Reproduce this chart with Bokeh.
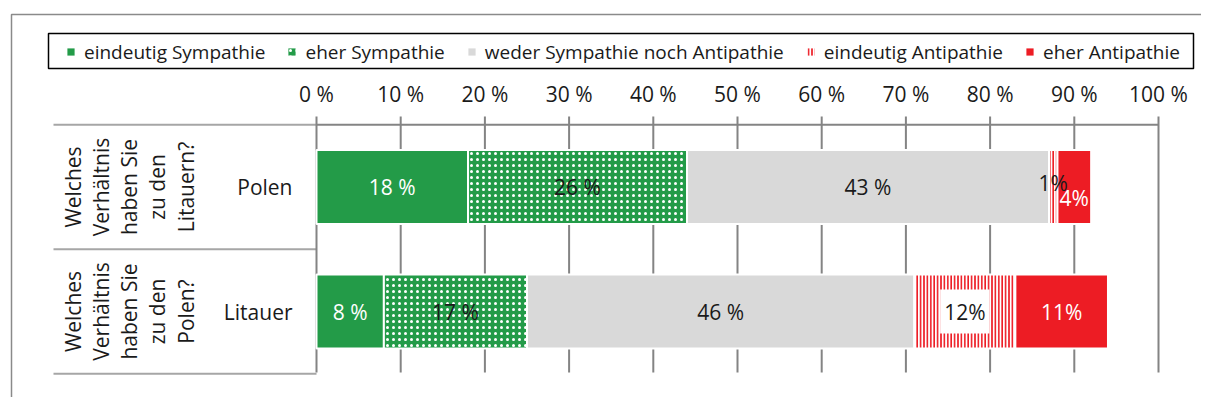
import numpy as np
from bokeh.plotting import figure
from bokeh.models import Range1d, Legend, LegendItem
from bokeh.core.properties import value
from bokeh.embed import file_html
from bokeh.resources import INLINE

# ---------------- data ----------------
groups = ["Polen", "Litauer"]
questions = [
    ["Welches", "Verhältnis", "haben Sie", "zu den", "Litauern?"],
    ["Welches", "Verhältnis", "haben Sie", "zu den", "Polen?"],
]
series = ["eindeutig Sympathie", "eher Sympathie",
          "weder Sympathie noch Antipathie", "eindeutig Antipathie",
          "eher Antipathie"]
eindeutig_sympathie = [18, 8]
eher_sympathie = [26, 17]
weder = [43, 46]
eindeutig_antipathie = [1, 12]
eher_antipathie = [4, 11]
bar_labels = [
    ["18 %", "8 %"],
    ["26 %", "17 %"],
    ["43 %", "46 %"],
    ["1%", "12%"],
    ["4%", "11%"],
]
x_ticks = [0, 10, 20, 30, 40, 50, 60, 70, 80, 90, 100]
tick_labels = ["0 %", "10 %", "20 %", "30 %", "40 %", "50 %",
               "60 %", "70 %", "80 %", "90 %", "100 %"]

values = [eindeutig_sympathie, eher_sympathie, weder,
          eindeutig_antipathie, eher_antipathie]

# ---------------- styles ----------------
GREEN = "#239B48"
RED = "#ED1C24"
GREY = "#D9D9D9"
GRID = "#848484"
TABLE = "#A6A6A6"
INK = "#1a1a1a"
FONT_NAME = "Open Sans"
FONT = value(FONT_NAME)

fills = [GREEN, GREEN, GREY, "#FFFFFF", RED]
hatches = [None, "dot", None, "vertical_line", None]
hatch_colors = [None, "white", None, RED, None]
hatch_scales = [1, 6, 1, 3.4, 1]
hatch_weights = [1, 1.6, 1, 1.8, 1]
label_colors = ["white", INK, INK, INK, "white"]

W, H = 1201, 397
PX_PER_PCT = 8.42
X0 = 316.0           # px of 0 %
PX_PER_ROW = 124.5
Y0 = 186.5           # px of first row centre

def dx(px):  # pixel -> data x
    return (px - X0) / PX_PER_PCT

def dy(py):  # pixel -> data y
    return (py - Y0) / PX_PER_ROW

p = figure(width=W, height=H,
           x_range=Range1d(-X0 / PX_PER_PCT, (W - X0) / PX_PER_PCT),
           y_range=Range1d((H - Y0) / PX_PER_ROW, -Y0 / PX_PER_ROW),
           output_backend="svg", toolbar_location=None,
           x_axis_location=None, y_axis_location=None,
           min_border=0, outline_line_color=None)
p.grid.visible = False

# outer frame (top + left)
p.line(x=[dx(11), dx(11), dx(1300)], y=[dy(420), dy(14), dy(14)],
       line_color="#8a8a8a", line_width=1.5)

# table lines on the left
rows = np.arange(len(groups))
ys = list(rows - 0.5) + [rows[-1] + 0.5]
p.segment(x0=dx(53), x1=0, y0=ys, y1=ys, line_color=TABLE, line_width=2)

# top axis line and vertical grid lines
p.segment(x0=x_ticks[0], x1=x_ticks[-1], y0=-0.5, y1=-0.5,
          line_color=GRID, line_width=2)
p.segment(x0=x_ticks, x1=x_ticks, y0=dy(116), y1=dy(372),
          line_color=GRID, line_width=2)

# tick labels
p.text(x=x_ticks, y=dy(93), text=tick_labels, text_font=FONT,
       text_font_size="21px", text_align="center", text_baseline="middle",
       text_color=INK)

# group labels and rotated questions
p.text(x=dx(292), y=rows, text=groups, text_font=FONT,
       text_font_size="21px", text_align="right", text_baseline="middle",
       text_color=INK)
for r, q in enumerate(questions):
    xs = [dx(72 + 28.3 * k) for k in range(len(q))]
    p.text(x=xs, y=[r] * len(q), text=q, angle=np.pi / 2,
           text_font=FONT, text_font_size="21px", text_align="center",
           text_baseline="middle", text_color=INK)

# stacked bars
bar_h = 74 / PX_PER_ROW
left = np.zeros(len(groups))
swatches = []
label_specs = []
for i, vals in enumerate(values):
    vals = np.array(vals, dtype=float)
    right = left + vals
    style = dict(fill_color=fills[i])
    if hatches[i]:
        style.update(hatch_pattern=hatches[i], hatch_color=hatch_colors[i],
                     hatch_scale=hatch_scales[i],
                     hatch_weight=hatch_weights[i])
    # borderless copy underneath: used as the legend swatch
    swatches.append(p.hbar(y=rows, left=left, right=right, height=bar_h,
                           line_color=None, **style))
    p.hbar(y=rows, left=left, right=right, height=bar_h,
           line_color="white", line_width=2, **style)
    centers = (left + right) / 2
    for g in range(len(groups)):
        label_specs.append((i, g, centers[g]))
    left = right

# bar value labels (drawn after all bars)
for i, g, cx in label_specs:
    yoff = 0
    extra = {}
    if g == 0 and i == 3:
        yoff = -4
    if g == 0 and i == 4:
        yoff = 11
    if g == 1 and i == 3:
        extra = dict(background_fill_color="white", padding=(4, 8))
    p.text(x=[cx], y=[g], text=[bar_labels[i][g]],
           text_font=FONT, text_font_size="21px", text_align="center",
           text_baseline="middle", text_color=label_colors[i],
           y_offset=yoff, **extra)

# legend frame
p.quad(left=dx(48), right=dx(1193), top=dy(33), bottom=dy(68),
       fill_color=None, line_color="black", line_width=1.5)

legend = Legend(items=[LegendItem(label=s, renderers=[r])
                       for s, r in zip(series, swatches)],
                orientation="horizontal", location=(66, H - 64.5),
                border_line_color=None, background_fill_alpha=0,
                label_text_font=FONT_NAME, label_text_font_size="19px",
                label_text_color=INK,
                glyph_width=9, glyph_height=9, label_standoff=9,
                spacing=22, padding=5, margin=0)
p.add_layout(legend)

open("out.html", "w").write(file_html(p, INLINE))
